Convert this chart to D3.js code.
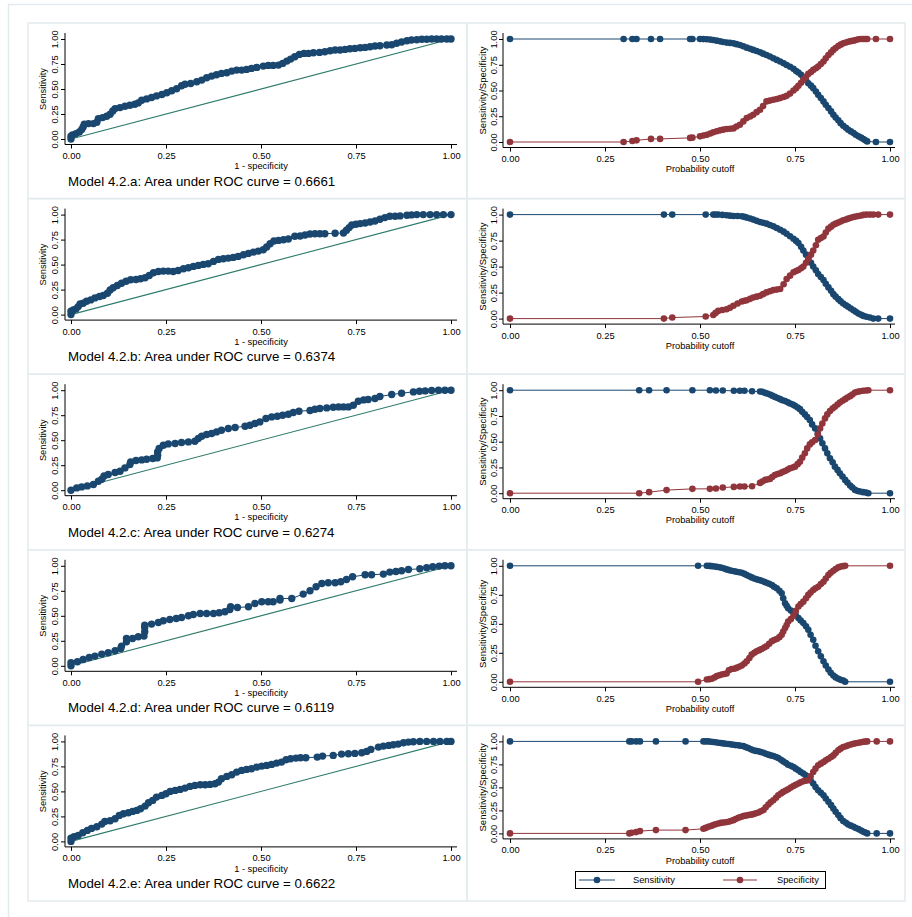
<!DOCTYPE html>
<html>
<head>
<meta charset="utf-8">
<script src="https://cdn.jsdelivr.net/npm/d3@7"></script>
<style>
  body { margin: 0; background: #fff; }
  text { font-family: "Liberation Sans", Arial, Helvetica, sans-serif; fill: #000; }
</style>
</head>
<body>
<svg id="chart" width="912" height="917"></svg>
<script>
// ---------- data ----------
const modelNames = ["4.2.a", "4.2.b", "4.2.c", "4.2.d", "4.2.e"];
const aucValues = [0.6661, 0.6374, 0.6274, 0.6119, 0.6622];
const tickValues = [0, 0.25, 0.5, 0.75, 1];
const seriesNames = ["Sensitivity", "Specificity"];

// ROC points: [1 - specificity, sensitivity]
const rocA = [[0,0],[0,0.027],[0.004,0.04],[0.013,0.054],[0.022,0.07],[0.028,0.094],[0.032,0.12],[0.035,0.147],[0.046,0.154],[0.059,0.154],[0.068,0.167],[0.072,0.204],[0.083,0.214],[0.094,0.227],[0.103,0.247],[0.11,0.28],[0.116,0.304],[0.129,0.314],[0.142,0.328],[0.155,0.338],[0.168,0.348],[0.177,0.361],[0.186,0.388],[0.199,0.401],[0.212,0.415],[0.225,0.431],[0.239,0.445],[0.252,0.462],[0.265,0.482],[0.278,0.502],[0.291,0.532],[0.3,0.548],[0.315,0.555],[0.331,0.572],[0.344,0.589],[0.357,0.612],[0.37,0.629],[0.383,0.642],[0.396,0.656],[0.41,0.662],[0.423,0.679],[0.436,0.689],[0.449,0.689],[0.462,0.696],[0.475,0.706],[0.489,0.716],[0.506,0.729],[0.519,0.736],[0.532,0.736],[0.546,0.739],[0.557,0.756],[0.568,0.779],[0.578,0.799],[0.589,0.823],[0.601,0.846],[0.613,0.856],[0.625,0.856],[0.638,0.863],[0.654,0.866],[0.668,0.873],[0.682,0.883],[0.695,0.89],[0.708,0.89],[0.721,0.896],[0.734,0.903],[0.747,0.906],[0.761,0.913],[0.774,0.916],[0.787,0.923],[0.8,0.93],[0.813,0.933],[0.831,0.94],[0.844,0.943],[0.857,0.957],[0.87,0.97],[0.884,0.983],[0.896,0.99],[0.91,0.993],[0.923,0.997],[0.936,0.997],[0.949,1],[0.962,1],[0.975,1],[0.989,1],[1,1]];
const rocB = [[0,0],[0,0.033],[0.006,0.047],[0.013,0.057],[0.019,0.08],[0.024,0.107],[0.032,0.114],[0.041,0.134],[0.052,0.147],[0.063,0.167],[0.075,0.181],[0.085,0.191],[0.096,0.214],[0.103,0.247],[0.111,0.268],[0.122,0.291],[0.133,0.314],[0.145,0.334],[0.157,0.348],[0.171,0.351],[0.183,0.358],[0.195,0.368],[0.206,0.391],[0.217,0.418],[0.23,0.431],[0.243,0.435],[0.256,0.435],[0.269,0.431],[0.282,0.441],[0.296,0.458],[0.309,0.468],[0.322,0.482],[0.335,0.492],[0.348,0.502],[0.361,0.508],[0.375,0.532],[0.388,0.552],[0.401,0.559],[0.414,0.565],[0.427,0.572],[0.44,0.582],[0.454,0.599],[0.467,0.612],[0.48,0.625],[0.493,0.635],[0.506,0.649],[0.515,0.676],[0.524,0.709],[0.534,0.736],[0.546,0.742],[0.559,0.749],[0.572,0.756],[0.589,0.783],[0.603,0.786],[0.616,0.796],[0.629,0.806],[0.642,0.809],[0.655,0.809],[0.668,0.809],[0.695,0.813],[0.717,0.816],[0.725,0.843],[0.732,0.87],[0.739,0.896],[0.75,0.903],[0.761,0.91],[0.774,0.916],[0.787,0.926],[0.8,0.936],[0.813,0.953],[0.826,0.97],[0.839,0.983],[0.853,0.983],[0.866,0.987],[0.884,0.993],[0.896,0.997],[0.91,1],[0.927,1],[0.945,1],[0.962,1],[0.98,1],[1,1]];
const rocC = [[0,0],[0.015,0.023],[0.028,0.033],[0.043,0.043],[0.059,0.057],[0.072,0.09],[0.081,0.11],[0.087,0.143],[0.098,0.157],[0.116,0.177],[0.129,0.19],[0.142,0.223],[0.155,0.257],[0.157,0.283],[0.171,0.297],[0.186,0.303],[0.199,0.31],[0.215,0.317],[0.227,0.323],[0.228,0.35],[0.228,0.383],[0.232,0.417],[0.243,0.45],[0.256,0.463],[0.274,0.467],[0.291,0.477],[0.309,0.483],[0.326,0.49],[0.335,0.517],[0.344,0.54],[0.357,0.557],[0.37,0.567],[0.383,0.583],[0.396,0.6],[0.414,0.617],[0.432,0.627],[0.458,0.64],[0.471,0.65],[0.484,0.667],[0.497,0.683],[0.513,0.717],[0.528,0.733],[0.543,0.74],[0.557,0.75],[0.572,0.76],[0.585,0.777],[0.6,0.79],[0.629,0.797],[0.642,0.81],[0.655,0.817],[0.673,0.823],[0.69,0.83],[0.704,0.833],[0.717,0.833],[0.73,0.833],[0.743,0.85],[0.756,0.89],[0.77,0.903],[0.782,0.907],[0.8,0.917],[0.813,0.937],[0.844,0.957],[0.87,0.97],[0.901,0.983],[0.917,0.99],[0.932,0.993],[0.949,0.997],[0.967,1],[0.984,1],[1,1]];
const rocD = [[0,0],[0,0.03],[0.017,0.04],[0.032,0.063],[0.048,0.083],[0.063,0.097],[0.081,0.117],[0.098,0.13],[0.116,0.15],[0.131,0.173],[0.133,0.197],[0.146,0.24],[0.146,0.273],[0.162,0.273],[0.177,0.29],[0.192,0.297],[0.194,0.34],[0.194,0.383],[0.194,0.407],[0.212,0.417],[0.23,0.433],[0.243,0.45],[0.26,0.463],[0.277,0.473],[0.291,0.483],[0.309,0.5],[0.322,0.513],[0.34,0.523],[0.357,0.523],[0.375,0.523],[0.39,0.53],[0.405,0.54],[0.418,0.563],[0.42,0.59],[0.438,0.583],[0.467,0.59],[0.484,0.623],[0.502,0.64],[0.519,0.64],[0.532,0.64],[0.55,0.657],[0.55,0.673],[0.581,0.673],[0.611,0.717],[0.629,0.75],[0.645,0.79],[0.66,0.823],[0.677,0.83],[0.695,0.83],[0.71,0.84],[0.725,0.863],[0.741,0.89],[0.774,0.91],[0.791,0.91],[0.822,0.917],[0.839,0.937],[0.855,0.943],[0.87,0.95],[0.888,0.963],[0.918,0.97],[0.936,0.98],[0.952,0.99],[0.969,0.997],[0.984,1],[1,1]];
const rocE = [[0,0],[0,0.033],[0.008,0.047],[0.019,0.06],[0.031,0.087],[0.043,0.11],[0.054,0.13],[0.068,0.147],[0.081,0.173],[0.089,0.2],[0.103,0.207],[0.116,0.227],[0.127,0.26],[0.138,0.277],[0.151,0.287],[0.162,0.3],[0.173,0.31],[0.183,0.327],[0.195,0.353],[0.204,0.387],[0.215,0.41],[0.225,0.443],[0.239,0.46],[0.25,0.477],[0.261,0.5],[0.274,0.51],[0.287,0.52],[0.3,0.533],[0.313,0.55],[0.326,0.56],[0.34,0.567],[0.353,0.567],[0.366,0.57],[0.379,0.577],[0.388,0.593],[0.396,0.627],[0.41,0.65],[0.423,0.667],[0.436,0.693],[0.449,0.71],[0.462,0.72],[0.475,0.727],[0.489,0.743],[0.502,0.753],[0.515,0.76],[0.528,0.77],[0.541,0.783],[0.554,0.793],[0.566,0.817],[0.578,0.827],[0.592,0.833],[0.604,0.837],[0.618,0.837],[0.648,0.843],[0.662,0.853],[0.69,0.86],[0.712,0.873],[0.73,0.877],[0.747,0.88],[0.765,0.887],[0.778,0.9],[0.789,0.92],[0.809,0.943],[0.822,0.953],[0.836,0.96],[0.848,0.967],[0.861,0.973],[0.875,0.987],[0.888,0.993],[0.901,0.997],[0.918,1],[0.936,1],[0.954,1],[0.971,1],[0.989,1],[1,1]];

// Sensitivity/specificity by cutoff: [cutoff, sensitivity, specificity]
const lsensA = [[0,1,0],[0.299,1,0],[0.322,1,0.01],[0.333,1,0.016],[0.371,1,0.03],[0.395,1,0.03],[0.474,1,0.04],[0.48,1,0.042],[0.5,1,0.055],[0.509,0.999,0.063],[0.518,0.997,0.071],[0.527,0.994,0.082],[0.535,0.99,0.094],[0.544,0.984,0.104],[0.553,0.977,0.113],[0.561,0.971,0.12],[0.57,0.965,0.126],[0.579,0.962,0.129],[0.588,0.958,0.132],[0.596,0.95,0.15],[0.605,0.942,0.168],[0.614,0.93,0.2],[0.623,0.916,0.232],[0.632,0.905,0.248],[0.64,0.894,0.265],[0.649,0.883,0.29],[0.658,0.871,0.313],[0.666,0.858,0.35],[0.675,0.845,0.394],[0.684,0.83,0.402],[0.693,0.813,0.41],[0.702,0.797,0.418],[0.711,0.781,0.426],[0.72,0.765,0.437],[0.728,0.748,0.448],[0.737,0.73,0.47],[0.746,0.71,0.5],[0.753,0.69,0.522],[0.759,0.674,0.545],[0.766,0.652,0.575],[0.772,0.629,0.603],[0.779,0.6,0.632],[0.785,0.571,0.661],[0.792,0.547,0.68],[0.798,0.523,0.7],[0.805,0.49,0.716],[0.811,0.458,0.732],[0.818,0.426,0.757],[0.825,0.394,0.781],[0.831,0.361,0.813],[0.838,0.329,0.845],[0.845,0.297,0.87],[0.851,0.265,0.894],[0.857,0.237,0.913],[0.864,0.21,0.932],[0.87,0.183,0.945],[0.877,0.158,0.958],[0.884,0.138,0.966],[0.89,0.119,0.974],[0.897,0.103,0.979],[0.904,0.087,0.984],[0.91,0.071,0.99],[0.917,0.055,0.997],[0.924,0.042,1],[0.93,0.029,1],[0.935,0.016,1],[0.94,0.006,1],[0.963,0,1],[1,0,1]];
const lsensB = [[0,1,0],[0.405,1,0],[0.427,1,0.01],[0.515,1,0.02],[0.535,1,0.035],[0.541,1,0.055],[0.548,1,0.074],[0.559,0.997,0.082],[0.57,0.994,0.09],[0.579,0.99,0.105],[0.588,0.987,0.123],[0.599,0.986,0.145],[0.61,0.984,0.165],[0.617,0.978,0.171],[0.623,0.971,0.177],[0.632,0.962,0.19],[0.64,0.952,0.203],[0.649,0.94,0.211],[0.658,0.929,0.219],[0.666,0.921,0.235],[0.675,0.913,0.252],[0.684,0.9,0.263],[0.693,0.887,0.274],[0.702,0.871,0.279],[0.711,0.855,0.284],[0.72,0.836,0.33],[0.728,0.816,0.381],[0.737,0.792,0.413],[0.746,0.768,0.445],[0.753,0.747,0.457],[0.759,0.726,0.468],[0.766,0.69,0.484],[0.772,0.655,0.5],[0.779,0.615,0.537],[0.785,0.574,0.574],[0.792,0.537,0.615],[0.798,0.5,0.655],[0.805,0.465,0.706],[0.811,0.429,0.758],[0.818,0.4,0.774],[0.825,0.371,0.79],[0.831,0.335,0.828],[0.838,0.3,0.865],[0.845,0.268,0.884],[0.851,0.235,0.903],[0.857,0.211,0.913],[0.864,0.187,0.923],[0.87,0.166,0.934],[0.877,0.145,0.945],[0.884,0.129,0.953],[0.89,0.113,0.961],[0.897,0.097,0.969],[0.904,0.081,0.977],[0.91,0.065,0.982],[0.917,0.048,0.987],[0.924,0.037,0.992],[0.93,0.026,0.997],[0.938,0.018,1],[0.947,0.01,1],[0.956,0,1],[0.969,0,1],[1,0,1]];
const lsensC = [[0,1,0],[0.34,1,0],[0.366,1,0.01],[0.412,1,0.03],[0.48,1,0.042],[0.526,1,0.042],[0.542,0.997,0.045],[0.56,0.997,0.055],[0.589,0.994,0.061],[0.605,0.994,0.065],[0.617,0.994,0.065],[0.637,0.99,0.068],[0.658,0.987,0.1],[0.664,0.984,0.113],[0.671,0.974,0.129],[0.677,0.967,0.133],[0.684,0.958,0.139],[0.69,0.947,0.158],[0.697,0.935,0.177],[0.704,0.924,0.186],[0.711,0.913,0.194],[0.717,0.903,0.205],[0.724,0.894,0.216],[0.731,0.882,0.229],[0.737,0.871,0.242],[0.744,0.86,0.25],[0.75,0.848,0.258],[0.757,0.832,0.282],[0.763,0.816,0.306],[0.769,0.79,0.345],[0.776,0.765,0.387],[0.782,0.74,0.435],[0.789,0.71,0.474],[0.795,0.668,0.494],[0.803,0.629,0.516],[0.81,0.58,0.57],[0.816,0.532,0.629],[0.822,0.484,0.677],[0.829,0.435,0.726],[0.835,0.387,0.765],[0.842,0.339,0.797],[0.849,0.3,0.823],[0.855,0.258,0.839],[0.862,0.226,0.861],[0.868,0.194,0.881],[0.875,0.161,0.897],[0.882,0.129,0.913],[0.888,0.103,0.929],[0.895,0.074,0.942],[0.901,0.055,0.958],[0.908,0.032,0.977],[0.915,0.022,0.985],[0.921,0.016,0.99],[0.929,0.01,0.994],[0.937,0.006,0.997],[0.943,0,1],[1,0,1]];
const lsensD = [[0,1,0],[0.495,1,0],[0.518,1,0.02],[0.525,0.999,0.023],[0.531,0.997,0.026],[0.538,0.994,0.037],[0.544,0.991,0.049],[0.551,0.987,0.056],[0.557,0.983,0.063],[0.564,0.976,0.067],[0.57,0.969,0.071],[0.576,0.963,0.1],[0.583,0.957,0.11],[0.59,0.953,0.113],[0.596,0.949,0.12],[0.603,0.945,0.13],[0.61,0.94,0.14],[0.617,0.93,0.158],[0.623,0.92,0.177],[0.63,0.91,0.205],[0.636,0.9,0.234],[0.643,0.891,0.25],[0.649,0.883,0.263],[0.656,0.877,0.273],[0.662,0.871,0.283],[0.669,0.863,0.295],[0.675,0.854,0.306],[0.682,0.845,0.327],[0.689,0.834,0.349],[0.695,0.82,0.36],[0.702,0.806,0.369],[0.709,0.785,0.385],[0.715,0.763,0.406],[0.719,0.72,0.434],[0.724,0.677,0.463],[0.728,0.655,0.49],[0.732,0.634,0.52],[0.739,0.614,0.54],[0.746,0.597,0.569],[0.752,0.574,0.611],[0.759,0.549,0.649],[0.765,0.529,0.671],[0.772,0.506,0.691],[0.779,0.478,0.72],[0.785,0.449,0.749],[0.791,0.406,0.769],[0.798,0.363,0.791],[0.804,0.311,0.806],[0.811,0.263,0.82],[0.818,0.22,0.843],[0.825,0.177,0.863],[0.831,0.14,0.891],[0.838,0.106,0.92],[0.844,0.077,0.94],[0.851,0.054,0.957],[0.857,0.038,0.972],[0.864,0.026,0.986],[0.87,0.017,0.993],[0.877,0.011,0.997],[0.882,0,1],[1,0,1]];
const lsensE = [[0,1,0],[0.314,1,0],[0.32,1,0.007],[0.332,1,0.014],[0.342,1,0.025],[0.384,1,0.036],[0.462,1,0.036],[0.509,1,0.05],[0.515,1,0.06],[0.522,1,0.072],[0.529,0.997,0.081],[0.535,0.993,0.09],[0.541,0.99,0.099],[0.548,0.986,0.108],[0.555,0.982,0.114],[0.561,0.978,0.119],[0.568,0.975,0.122],[0.575,0.971,0.126],[0.581,0.968,0.135],[0.588,0.964,0.144],[0.594,0.96,0.157],[0.601,0.957,0.17],[0.607,0.953,0.179],[0.614,0.949,0.188],[0.62,0.938,0.193],[0.627,0.928,0.199],[0.634,0.915,0.204],[0.64,0.903,0.209],[0.647,0.897,0.218],[0.654,0.892,0.227],[0.66,0.885,0.24],[0.667,0.877,0.253],[0.673,0.866,0.284],[0.68,0.856,0.314],[0.686,0.848,0.338],[0.693,0.841,0.361],[0.7,0.83,0.388],[0.706,0.819,0.415],[0.713,0.801,0.433],[0.719,0.783,0.451],[0.726,0.765,0.466],[0.732,0.747,0.48],[0.739,0.734,0.498],[0.746,0.722,0.516],[0.752,0.704,0.529],[0.759,0.686,0.542],[0.765,0.668,0.555],[0.772,0.65,0.567],[0.778,0.632,0.572],[0.785,0.614,0.578],[0.791,0.578,0.62],[0.798,0.542,0.668],[0.804,0.505,0.704],[0.811,0.469,0.74],[0.818,0.442,0.758],[0.825,0.415,0.776],[0.831,0.379,0.794],[0.838,0.343,0.812],[0.845,0.307,0.83],[0.851,0.271,0.848],[0.857,0.235,0.875],[0.864,0.199,0.903],[0.87,0.166,0.921],[0.877,0.134,0.939],[0.884,0.115,0.948],[0.89,0.097,0.957],[0.897,0.084,0.966],[0.904,0.072,0.975],[0.91,0.059,0.98],[0.917,0.047,0.986],[0.924,0.032,0.991],[0.93,0.018,0.996],[0.935,0.009,0.998],[0.94,0,1],[0.965,0,1],[1,0,1]];

const rocSets = [rocA, rocB, rocC, rocD, rocE];
const lsensSets = [lsensA, lsensB, lsensC, lsensD, lsensE];

// ---------- style & layout ----------
const navy = "#1a476f";
const maroon = "#90353b";
const refColor = "#2e7a6b";
const frameColor = "#e3ebee";
const tickFont = 9.3;
const rocMarkerR = 3.7;
const lsensMarkerR = 3.3;
const fmt = d3.format(".2f");

const firstTop = 23, rowStep = 175.6, lastBottom = 901;
const rightPlotHeights = [103, 104, 103, 116, 92];

const svg = d3.select("#chart");

// outer page frame
svg.append("path")
  .attr("d", "M8.5,917 V4.5 H912")
  .attr("fill", "none").attr("stroke", frameColor).attr("stroke-width", 1.5);

function styleAxisText(sel) {
  sel.attr("font-family", null).attr("font-size", null);
  sel.selectAll("text").style("font-size", tickFont + "px").attr("fill", "#000");
  sel.selectAll("line").attr("stroke", "#000");
}

function drawAxes(g, x, y, plotLeft, plotRight, plotTop, axisY, yLabelOffset) {
  // axis lines spanning the plot region
  g.append("line").attr("x1", plotLeft).attr("x2", plotRight).attr("y1", axisY).attr("y2", axisY)
    .attr("stroke", "#000").attr("stroke-width", 1);
  g.append("line").attr("x1", plotLeft).attr("x2", plotLeft).attr("y1", plotTop).attr("y2", axisY)
    .attr("stroke", "#000").attr("stroke-width", 1);

  const xa = g.append("g").attr("transform", `translate(0,${axisY})`)
    .call(d3.axisBottom(x).tickValues(tickValues).tickFormat(fmt).tickSize(4).tickSizeOuter(0).tickPadding(4));
  xa.select(".domain").remove();
  styleAxisText(xa);

  const ya = g.append("g").attr("transform", `translate(${plotLeft},0)`)
    .call(d3.axisLeft(y).tickValues(tickValues).tickFormat(fmt).tickSize(4).tickSizeOuter(0));
  ya.select(".domain").remove();
  styleAxisText(ya);
  ya.selectAll("text")
    .attr("transform", "rotate(-90)")
    .attr("x", 0).attr("y", yLabelOffset).attr("dy", 0)
    .style("text-anchor", "middle");
}

function drawRoc(i, top) {
  const data = rocSets[i];
  const x = d3.scaleLinear().domain([0, 1]).range([71, 451]);
  const y = d3.scaleLinear().domain([0, 1]).range([top + 116, top + 16]);
  const axisY = top + 121.5;
  const g = svg.append("g");

  drawAxes(g, x, y, 65, 457, top + 10, axisY, -7);

  // y title
  g.append("text")
    .attr("transform", `translate(43,${(y(0) + y(1)) / 2}) rotate(-90)`)
    .attr("dy", "0.35em").attr("text-anchor", "middle")
    .style("font-size", tickFont + "px").text("Sensitivity");
  // x title
  g.append("text").attr("x", (x(0) + x(1)) / 2).attr("y", y(0) + 27).attr("dy", "0.35em")
    .attr("text-anchor", "middle").style("font-size", tickFont + "px").text("1 - specificity");
  // caption
  g.append("text").attr("x", 68).attr("y", y(0) + 42).attr("dy", "0.35em")
    .style("font-size", "13.3px")
    .text(`Model ${modelNames[i]}: Area under ROC curve = ${aucValues[i].toFixed(4)}`);

  const line = d3.line().x(d => x(d[0])).y(d => y(d[1]));
  // reference diagonal
  g.append("path").datum([[0, 0], [1, 1]]).attr("d", line)
    .attr("fill", "none").attr("stroke", refColor).attr("stroke-width", 1.1);
  // ROC curve
  g.append("path").datum(data).attr("d", line)
    .attr("fill", "none").attr("stroke", navy).attr("stroke-width", 1);
  g.selectAll("circle.roc").data(data).join("circle").attr("class", "roc")
    .attr("cx", d => x(d[0])).attr("cy", d => y(d[1])).attr("r", rocMarkerR).attr("fill", navy);
}

function drawLsens(i, top) {
  const data = lsensSets[i];
  const y1 = top + 16, y0 = y1 + rightPlotHeights[i];
  const x = d3.scaleLinear().domain([0, 1]).range([510, 890]);
  const y = d3.scaleLinear().domain([0, 1]).range([y0, y1]);
  const axisY = y0 + 5.5;
  const g = svg.append("g");

  drawAxes(g, x, y, 503, 895, y1 - 6, axisY, -6);

  g.append("text")
    .attr("transform", `translate(483,${(y0 + y1) / 2}) rotate(-90)`)
    .attr("dy", "0.35em").attr("text-anchor", "middle")
    .style("font-size", "9.5px").text("Sensitivity/Specificity");
  g.append("text").attr("x", (x(0) + x(1)) / 2).attr("y", y0 + 27).attr("dy", "0.35em")
    .attr("text-anchor", "middle").style("font-size", tickFont + "px").text("Probability cutoff");

  const series = [
    { key: 1, color: navy },
    { key: 2, color: maroon }
  ];
  series.forEach(s => {
    const line = d3.line().x(d => x(d[0])).y(d => y(d[s.key]));
    g.append("path").datum(data).attr("d", line)
      .attr("fill", "none").attr("stroke", s.color).attr("stroke-width", 1);
    g.selectAll(null).data(data).join("circle")
      .attr("cx", d => x(d[0])).attr("cy", d => y(d[s.key])).attr("r", lsensMarkerR).attr("fill", s.color);
  });
}

modelNames.forEach((m, i) => {
  const top = firstTop + rowStep * i;
  const bottom = i === modelNames.length - 1 ? lastBottom : top + rowStep;
  // panel frames
  svg.append("rect").attr("x", 28).attr("y", top).attr("width", 439).attr("height", bottom - top)
    .attr("fill", "none").attr("stroke", frameColor).attr("stroke-width", 1.5);
  svg.append("rect").attr("x", 467).attr("y", top).attr("width", 438).attr("height", bottom - top)
    .attr("fill", "none").attr("stroke", frameColor).attr("stroke-width", 1.5);
  drawRoc(i, top);
  drawLsens(i, top);
});

// legend
const legend = svg.append("g");
legend.append("rect").attr("x", 575.5).attr("y", 871.5).attr("width", 250).attr("height", 17)
  .attr("fill", "#fff").attr("stroke", "#000").attr("stroke-width", 1);
const legendItems = [
  { name: seriesNames[0], color: navy, x1: 579, x2: 615, tx: 633 },
  { name: seriesNames[1], color: maroon, x1: 723, x2: 757, tx: 777 }
];
legendItems.forEach(it => {
  legend.append("line").attr("x1", it.x1).attr("x2", it.x2).attr("y1", 880).attr("y2", 880)
    .attr("stroke", it.color).attr("stroke-width", 1);
  legend.append("circle").attr("cx", (it.x1 + it.x2) / 2).attr("cy", 880).attr("r", lsensMarkerR).attr("fill", it.color);
  legend.append("text").attr("x", it.tx).attr("y", 880).attr("dy", "0.35em")
    .style("font-size", tickFont + "px").text(it.name);
});
</script>
</body>
</html>
